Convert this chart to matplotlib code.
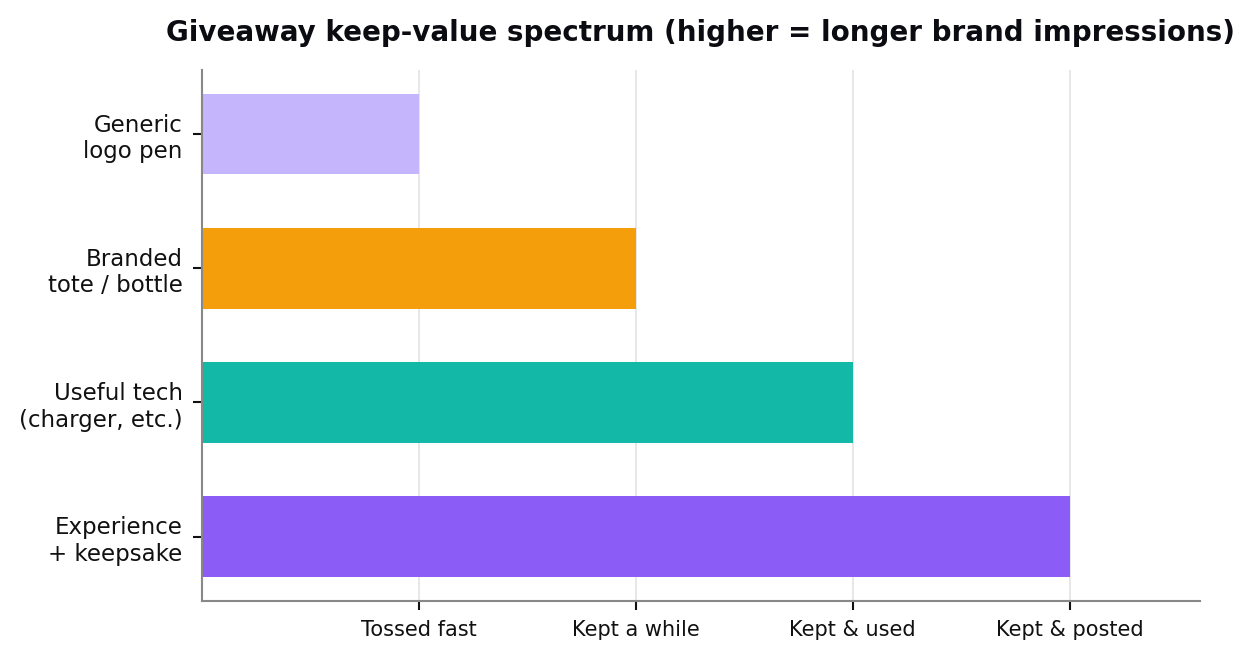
import matplotlib
matplotlib.use("Agg")
import matplotlib.pyplot as plt

plt.rcParams["font.family"] = ["DejaVu Sans"]

# data
items = ["Generic\nlogo pen", "Branded\ntote / bottle", "Useful tech\n(charger, etc.)", "Experience\n+ keepsake"]
keep_value = [1, 2, 3, 4]
colors = ["#C4B5FD", "#F59E0B", "#14B8A6", "#8B5CF6"]
levels = [1, 2, 3, 4]
level_labels = ["Tossed fast", "Kept a while", "Kept & used", "Kept & posted"]

fig = plt.figure(figsize=(12.55, 6.6), dpi=100)
ax = fig.add_axes((0.161, 0.0894, 0.795, 0.805))

ax.barh(range(len(items)), keep_value, height=0.6, color=colors, zorder=2)
ax.invert_yaxis()
ax.set_yticks(range(len(items)))
ax.set_yticklabels(items, fontsize=16.5, color="#111111")
ax.set_xticks(levels)
ax.set_xticklabels(level_labels, fontsize=15, color="#111111")
ax.set_xlim(0, 4.6)

ax.grid(axis="x", color="#e3e3e3", linewidth=1.2, zorder=0)
ax.set_axisbelow(True)

for s in ["top", "right"]:
    ax.spines[s].set_visible(False)
for s in ["left", "bottom"]:
    ax.spines[s].set_color("#888888")
    ax.spines[s].set_linewidth(1.5)
ax.tick_params(axis="both", color="#111111", length=6.5, width=1.5)
ax.tick_params(axis="y", pad=7.5)
ax.tick_params(axis="x", pad=7)

ax.set_title("Giveaway keep-value spectrum (higher = longer brand impressions)",
             fontsize=20, fontweight="bold", color="#0b0b12", pad=21)

plt.savefig("out.png", dpi=100)
plt.close()
